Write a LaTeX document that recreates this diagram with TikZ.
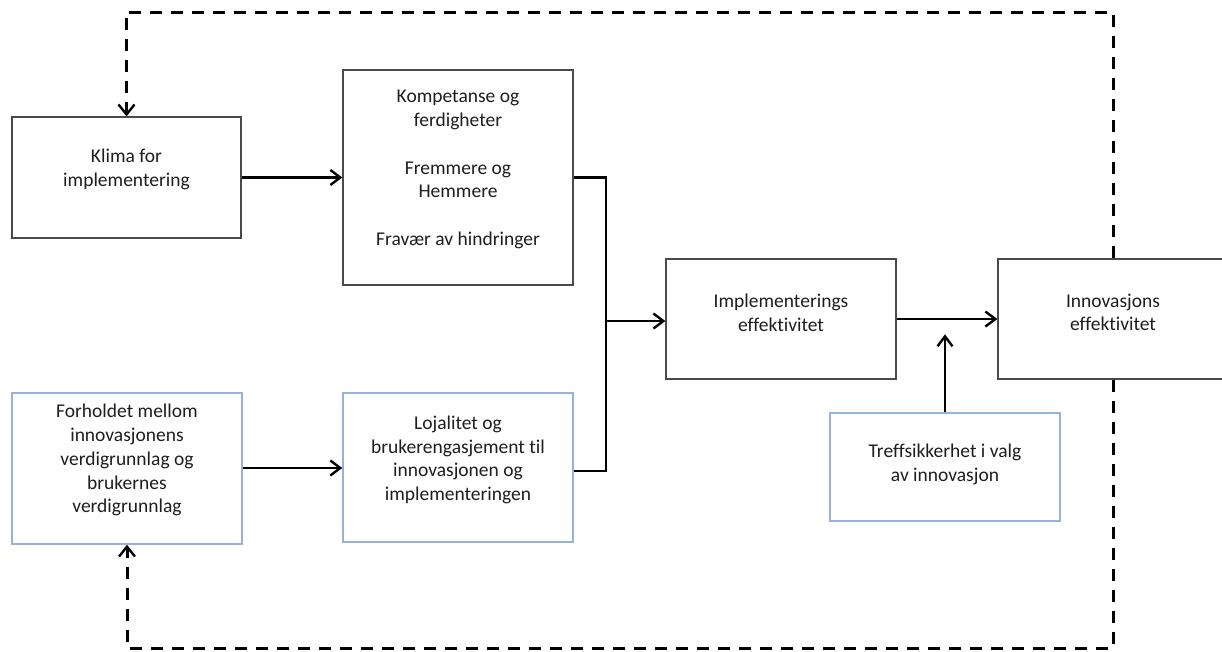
\documentclass[tikz,border=0pt]{standalone}
\usepackage{fontspec}
\setmainfont{Carlito}[Ligatures=NoCommon]
\usetikzlibrary{arrows.meta,calc,backgrounds}
\definecolor{boxgray}{HTML}{4A4A4A}
\definecolor{boxblue}{HTML}{95B3D7}
\definecolor{txtgray}{HTML}{1E1E1E}
\begin{document}
\begin{tikzpicture}[x=1pt,y=-1pt,
  box/.style={draw=boxgray, line width=1.2pt, fill=white, rectangle, inner sep=0pt, minimum width=230pt},
  bluebox/.style={box, draw=boxblue, line width=1.4pt},
  txt/.style={anchor=north, align=center, inner sep=0pt, text=txtgray, font=\fontsize{19.5}{23.8}\selectfont},
  wire/.style={line width=2.9pt, draw=black},
  arr/.style={wire, -{Straight Barb[length=10pt,width=15pt,line width=2.4pt]}},
  fb/.style={line width=3pt, draw=black, dash pattern=on 12pt off 9pt, -{Straight Barb[length=10pt,width=16pt,line width=2.4pt]}}]
\useasboundingbox (0,0) rectangle (1222,651);

% boxes
\node[box, minimum width=229pt, minimum height=121pt] (klima) at (126.5,177.5) {};
\node[box, minimum height=215pt] (komp) at (458,177.5) {};
\node[box, minimum height=120pt] (impl) at (781,319) {};
\node[box, minimum height=120pt] (innov) at (1113,319) {};
\node[bluebox, minimum height=151pt] (forh) at (127,468.5) {};
\node[bluebox, minimum height=149pt] (loj) at (458,467.5) {};
\node[bluebox, minimum height=108pt] (treff) at (945,467) {};

% texts
\node[txt] (klimat) at (126.5,149) {Klima for\\implementering};
\node[txt] (kompt) at (458,90) {Kompetanse og\\ferdigheter\\[23.8pt]Fremmere og\\Hemmere\\[23.8pt]Fravær av hindringer};
\node[txt] (implt) at (781,293.5) {Implementerings\\effektivitet};
\node[txt] (innovt) at (1113,293.5) {Innovasjons\\effektivitet};
\node[txt] (forht) at (127,404) {Forholdet mellom\\innovasjonens\\verdigrunnlag og\\brukernes\\verdigrunnlag};
\node[txt] (lojt) at (458,415.5) {Lojalitet og\\brukerengasjement til\\innovasjonen og\\implementeringen};
\node[txt] (trefft) at (945,444) {Treffsikkerhet i valg\\av innovasjon};

% connectors
\coordinate (j) at (606,321);
\coordinate (top) at (0,12);
\coordinate (bot) at (0,648);
\draw[arr] (klima.east) -- (komp.west |- klima.east);
\draw[wire] (komp.east) -| (j) |- ($(loj.east)+(0,3.5)$);
\draw[arr] (j) -- (impl.west |- j);
\draw[arr] ($(forh.east)+(0,-0.5)$) -- (loj.west |- {$(forh.east)+(0,-0.5)$});
\draw[arr] (impl.east) -- (innov.west);
\draw[arr] (treff.north) -- ++(0,-78);

\begin{pgfonlayer}{background}
\draw[fb] (innov.north) -- (innov.north |- top) -| (klima.north);
\draw[fb] (innov.south) -- (innov.south |- bot) -| (forh.south);
\end{pgfonlayer}
\end{tikzpicture}
\end{document}
